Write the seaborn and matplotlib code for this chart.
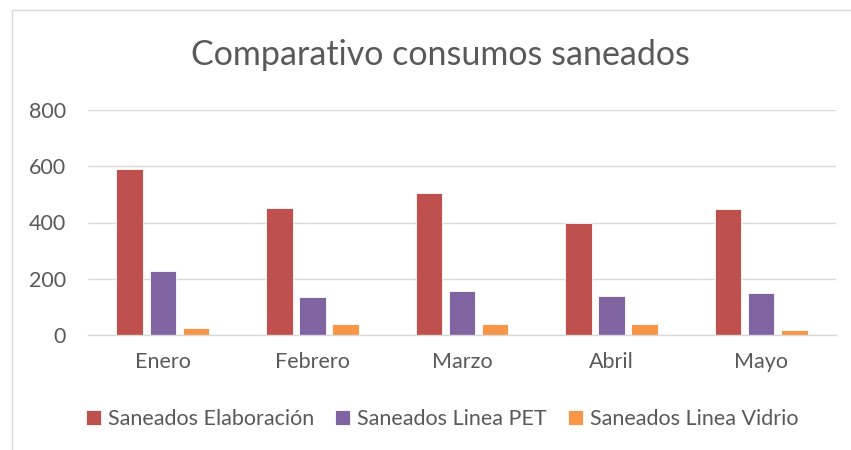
import pandas as pd
import seaborn as sns
import matplotlib.pyplot as plt
from matplotlib.patches import Rectangle

months = ["Enero", "Febrero", "Marzo", "Abril", "Mayo"]
elaboracion = [589, 453, 506, 399, 447]
linea_pet = [228, 136, 157, 138, 149]
linea_vidrio = [25, 39, 39, 39, 18]
series = ["Saneados Elaboración", "Saneados Linea PET", "Saneados Linea Vidrio"]
colors = ["#C0504D", "#8064A2", "#F79646"]
yticks = [0, 200, 400, 600, 800]

df = pd.DataFrame({"mes": months * 3,
                   "serie": [series[0]] * 5 + [series[1]] * 5 + [series[2]] * 5,
                   "valor": elaboracion + linea_pet + linea_vidrio})

sns.set_style("white")
plt.rcParams['font.family'] = ['Lato', 'DejaVu Sans']
grey = "#595959"

fig = plt.figure(figsize=(8.51, 4.5), dpi=100)
ax = fig.add_axes([88 / 851, (450 - 335) / 450, (836 - 88) / 851, 225 / 450])

sns.barplot(data=df, x="mes", y="valor", hue="serie", palette=colors, saturation=1,
            width=0.665, gap=0.2, edgecolor="white", linewidth=0.6, ax=ax)

ax.set_ylim(0, 800)
ax.set_xlim(-0.5, 4.5)
ax.set_yticks(yticks)
ax.grid(axis="y", color="#D9D9D9", linewidth=1)
ax.set_axisbelow(True)
for s in ["top", "right", "left"]:
    ax.spines[s].set_visible(False)
ax.spines["bottom"].set_color("#D9D9D9")
ax.spines["bottom"].set_linewidth(1)
ax.tick_params(axis="both", length=0, labelsize=15.5, colors=grey)
ax.tick_params(axis="x", pad=12)
ax.tick_params(axis="y", pad=16)
ax.set_xlabel("")
ax.set_ylabel("")

fig.text(440 / 851, 1 - 55 / 450, "Comparativo consumos saneados",
         ha="center", va="center", fontsize=24.5, color=grey)

ax.legend(loc="center", bbox_to_anchor=(442 / 851, 1 - 419 / 450), bbox_transform=fig.transFigure,
          ncol=3, frameon=False, fontsize=15.5, labelcolor=grey,
          handlelength=0.7, handleheight=0.7, handletextpad=0.3, columnspacing=1.0)

fig.patches.append(Rectangle((12 / 851, -0.1), 1.0, 1.1 - 10 / 450, transform=fig.transFigure,
                             fill=False, edgecolor="#D9D9D9", linewidth=1))

fig.savefig("out.png", dpi=100)
